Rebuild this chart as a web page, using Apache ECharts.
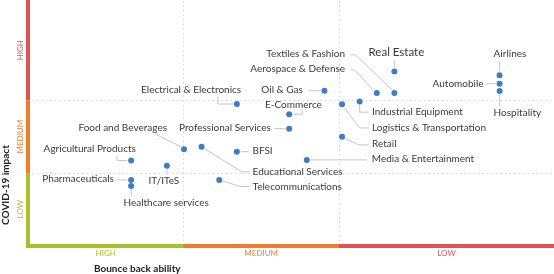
<!DOCTYPE html>
<html><head><meta charset="utf-8">
<script src="https://cdn.jsdelivr.net/npm/echarts@6/dist/echarts.min.js"></script>
<style>html,body{margin:0;padding:0;background:#fff}#c{width:554px;height:274px}</style>
</head><body><div id="c"></div>
<script>
// ---- data ----
const sectors = ['Real Estate','Textiles & Fashion','Aerospace & Defense','Oil & Gas','Airlines','Automobile','Hospitality','Industrial Equipment','Logistics & Transportation','E-Commerce','Professional Services','Retail','Media & Entertainment','Electrical & Electronics','Food and Beverages','Educational Services','BFSI','Telecommunications','Agricultural Products','IT/ITeS','Pharmaceuticals','Healthcare services'];
const bounceBack = [7.07,7.07,6.73,5.72,9.10,9.10,9.10,6.40,6.06,5.04,5.04,6.06,5.38,4.03,3.01,3.35,4.03,3.69,1.99,2.68,1.99,1.99];
const covidImpact = [7.19,6.30,6.30,6.40,7.04,6.69,6.39,5.95,5.84,5.43,4.83,4.50,3.54,5.85,3.98,4.08,3.88,2.71,3.51,3.30,2.71,2.46];
const xLevels = ['HIGH','MEDIUM','LOW'];      // bounce back ability, left to right
const yLevels = ['LOW','MEDIUM','HIGH'];      // covid impact, bottom to top
const xEdges = [0,3,6,10.15];
const yEdges = [0,3,6,10.15];

// ---- styles ----
const FONT = 'Lato';
const LBL = 10;
const levelColors = ['#a9bf2c','#ee7d2e','#e05353'];
const xLevelColors = [levelColors[0],levelColors[1],levelColors[2]];
const yLevelColors = [levelColors[0],levelColors[1],levelColors[2]];
// label placement relative to the point (pixels)
const layout = [
 {dx:2,dy:-19.4,align:'center',size:11.5,line:[[0,-4],[0,-11.5]]},
 {dx:-49.3,dy:-39.3,align:'right',line:[[-44,-38.3],[-39,-38.3],[-2,-3]]},
 {dx:-31.7,dy:-24.3,align:'right',line:[[-26,-23.5],[-22,-23],[-3,-2.5]]},
 {dx:-21.6,dy:-0.7,align:'right',line:[[-16,0],[-4,0]]},
 {dx:10.4,dy:-21.3,align:'center',line:[[0,-4],[0,-14]]},
 {dx:-16,dy:-0.4,align:'right',line:[[-13,0],[-4,0]]},
 {dx:-6,dy:22.3,align:'left',line:[[0,4],[0,15]]},
 {dx:12.4,dy:10.6,align:'left',line:[[0,3],[0,10.6],[9,10.6]]},
 {dx:30,dy:24,align:'left',line:[[2,3],[17.6,23.7],[27,23.7]]},
 {dx:32.7,dy:-9.3,align:'right',line:[[4,0],[13,0],[13,-5]]},
 {dx:-18.3,dy:-1,align:'right',line:[[-15,0],[-4,0]]},
 {dx:30,dy:7.3,align:'left',line:[[3,1.5],[16.6,8.3],[27,8.3]]},
 {dx:65,dy:-0.7,align:'left',line:[[4,0],[60,0]]},
 {dx:4.3,dy:-14,align:'right',line:[[-4,0],[-19,0],[-19,-7]]},
 {dx:-17,dy:-21.6,align:'right',line:[[-29,-15.3],[-3,-2.5]]},
 {dx:51,dy:25,align:'left',line:[[3,2],[40.4,25],[48,25]]},
 {dx:15.6,dy:-0.7,align:'left',line:[[4,0],[12,0]]},
 {dx:33.3,dy:6.7,align:'left',line:[[3,1],[21,6.5],[30,6.5]]},
 {dx:4.7,dy:-11.7,align:'right',line:[[-4,0],[-14,0],[-14,-5]]},
 {dx:-3,dy:15.3,align:'center',line:[[0,3],[0,9]]},
 {dx:-17.3,dy:-1,align:'right',line:[[-14,0],[-4,0]]},
 {dx:-7.7,dy:16.7,align:'left',line:[[0,3],[0,10]]}
];

const mid = e => e.slice(0,-1).map((v,i)=>(v+e[i+1])/2);
const xCenters = mid(xEdges), yCenters = mid(yEdges);
const findIdx = (arr,v)=>arr.findIndex(c=>Math.abs(c-v)<1e-6);

const axisSegs = [];
xLevels.forEach((n,i)=>axisSegs.push([{coord:[xEdges[i],0],lineStyle:{color:xLevelColors[i],cap:i===0?'square':'butt'}},{coord:[xEdges[i+1],0]}]));
yLevels.forEach((n,i)=>axisSegs.push([{coord:[0,yEdges[i]],lineStyle:{color:yLevelColors[i],cap:i===0?'square':'butt'}},{coord:[0,yEdges[i+1]]}]));
axisSegs.sort((a,b)=>(a[0].lineStyle.cap==='square'?-1:0)-(b[0].lineStyle.cap==='square'?-1:0));

const richFor = cols => ({c0:{color:cols[0],fontSize:8,fontFamily:FONT},c1:{color:cols[1],fontSize:8,fontFamily:FONT},c2:{color:cols[2],fontSize:8,fontFamily:FONT}});

const chart = echarts.init(document.getElementById('c'), null, {renderer:'canvas'});
chart.setOption({
  animation:false,
  textStyle:{fontFamily:FONT},
  grid:{left:28,right:0,top:0,bottom:28.5,containLabel:false},
  xAxis:{type:'value',min:xEdges[0],max:xEdges[3],axisLine:{show:false},axisTick:{show:false},splitLine:{show:false},
    axisLabel:{customValues:xCenters,margin:4,fontSize:8,fontFamily:FONT,
      formatter:v=>{const i=findIdx(xCenters,v);return '{c'+i+'|'+xLevels[i]+'}';},rich:richFor(xLevelColors)}},
  yAxis:{type:'value',min:yEdges[0],max:yEdges[3],axisLine:{show:false},axisTick:{show:false},splitLine:{show:false},
    axisLabel:{customValues:yCenters,margin:4,rotate:90,fontSize:8,fontFamily:FONT,
      formatter:v=>{const i=findIdx(yCenters,v);return '{c'+i+'|'+yLevels[i]+'}';},rich:richFor(yLevelColors)}},
  graphic:[
    {type:'text',x:137.3,y:268.3,style:{text:'Bounce back ability',font:'bold 10px '+FONT,fill:'#222',align:'center',verticalAlign:'middle'}},
    {type:'text',x:5.5,y:185,rotation:Math.PI/2,style:{text:'COVID-19 impact',font:'bold 10px '+FONT,fill:'#222',align:'center',verticalAlign:'middle'}}
  ],
  series:[
    {type:'scatter',data:[],silent:true,
      markLine:{silent:true,symbol:['none','none'],label:{show:false},animation:false,
        lineStyle:{type:[1.5,3],color:'#d4d4d4',width:1},
        data:[{xAxis:xEdges[1]},{xAxis:xEdges[2]},{yAxis:yEdges[1]},{yAxis:yEdges[2]}]}},
    {type:'scatter',data:[],silent:true,z:5,
      markLine:{silent:true,symbol:['none','none'],label:{show:false},animation:false,
        lineStyle:{type:'solid',width:4},data:axisSegs}},
    {type:'custom',clip:false,z:10,
      data:sectors.map((s,i)=>[bounceBack[i],covidImpact[i]]),
      renderItem:(params,api)=>{
        const i=params.dataIndex, L=layout[i];
        const p=api.coord([api.value(0),api.value(1)]);
        const kids=[];
        if(L.line) kids.push({type:'polyline',shape:{points:L.line.map(o=>[p[0]+o[0],p[1]+o[1]])},style:{stroke:'#c6c6c6',lineWidth:1,fill:null}});
        kids.push({type:'circle',shape:{cx:p[0],cy:p[1],r:3},style:{fill:'#3b7ec8'}});
        kids.push({type:'text',x:p[0]+L.dx,y:p[1]+L.dy,style:{text:sectors[i],fill:'#3a3a3a',font:(L.size||LBL)+'px '+FONT,align:L.align,verticalAlign:'middle'}});
        return {type:'group',children:kids};
      }}
  ]
});
</script></body></html>
